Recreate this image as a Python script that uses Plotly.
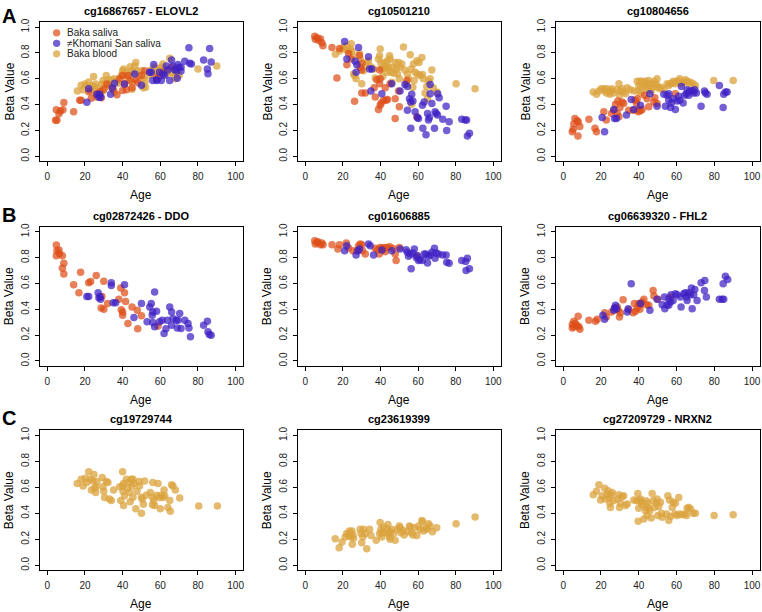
import plotly.graph_objects as go

# ---------------- DATA (Age, Beta value) ----------------
# Panel A1: cg16867657 - ELOVL2
A1_saliva_age = [4.8,5.1,4.4,6.2,7,8.3,8.8,14,17.2,18,22,23.4,26,28,28.7,30,31.7,35,37,38.4,40,40,41,42,42.8,44,45,47,48,50,51.7,58,59.6,61.4,66]
A1_saliva_beta = [0.36,0.28,0.28,0.33,0.35,0.36,0.416,0.344,0.434,0.434,0.5,0.45,0.48,0.5,0.454,0.52,0.56,0.52,0.477,0.6,0.51,0.625,0.56,0.515,0.625,0.587,0.53,0.59,0.57,0.625,0.663,0.607,0.617,0.65,0.69]
A1_khomani_age = [21,22,26.4,27.3,27.8,28.3,33.6,34.5,35.7,41,46.4,50,54.3,55.2,56,56.5,58,58.4,59.6,60.5,61.4,62.3,63.2,64,65,66,66.7,67.6,68.5,69,69.4,70,71,71,73,75.2,75.6,76.5,83,85,85.3,86.2,87]
A1_khomani_beta = [0.418,0.523,0.48,0.457,0.48,0.457,0.48,0.531,0.566,0.56,0.638,0.55,0.65,0.65,0.587,0.71,0.587,0.592,0.65,0.587,0.638,0.625,0.7,0.668,0.587,0.745,0.7,0.673,0.66,0.605,0.71,0.69,0.66,0.69,0.735,0.84,0.72,0.715,0.745,0.675,0.64,0.834,0.73]
A1_blood_age = [16,18,19,20,21,22,23,24,24.6,25,25.7,26.4,27.4,28.7,29.6,30.4,31.3,32.2,32.7,34,35.7,37,38,39.3,40,40.5,41.6,42.3,43.4,44,44.6,45,45.5,46.4,47,47.6,48.7,50,50.8,52.2,53.5,55,56,57,58,59.3,60.5,61.4,62.3,63.2,65,66,66.7,68,68.8,70,80,90,35.7,29.6,26,33,45,51,52,60,64]
A1_blood_beta = [0.505,0.55,0.515,0.56,0.547,0.575,0.505,0.547,0.617,0.535,0.56,0.523,0.485,0.555,0.587,0.56,0.625,0.592,0.55,0.592,0.6,0.582,0.566,0.625,0.663,0.676,0.65,0.605,0.625,0.694,0.663,0.575,0.65,0.7,0.727,0.663,0.617,0.663,0.6,0.535,0.625,0.668,0.638,0.69,0.65,0.676,0.69,0.715,0.676,0.638,0.76,0.65,0.638,0.6,0.65,0.625,0.676,0.70,0.497,0.505,0.46,0.54,0.52,0.53,0.58,0.66,0.67]

# Panel A2: cg10501210
A2_saliva_age = [5,5.3,6.2,7,8,8.8,9.4,14.2,16.8,18.2,22.1,23,24.4,26.2,28.8,29.2,30,30,30,31.9,36.6,37.2,38,39.5,39.5,39.8,39.8,38.9,40.4,41.6,42.5,43,43.7,45.1,47.8,47.8,49.6,50,59.3,54]
A2_saliva_beta = [0.93,0.906,0.918,0.898,0.91,0.88,0.855,0.842,0.607,0.834,0.709,0.796,0.753,0.426,0.78,0.69,0.72,0.668,0.49,0.49,0.53,0.46,0.592,0.561,0.668,0.6,0.395,0.362,0.413,0.434,0.53,0.434,0.439,0.561,0.293,0.446,0.505,0.383,0.306,0.587]
A2_khomani_age = [20.9,22.1,26.5,27.4,28.3,27,33.6,34.2,35.4,34.9,40.7,46,50.4,53,54.3,54.3,55.4,56,56.1,56.6,57.2,58.4,59.6,60.2,62.3,62.5,63.2,64.2,65,65.5,66,66.4,66.4,67.3,68.7,69,69.6,70.3,70.4,71.2,73.1,74.9,75.2,76.5,83.2,85,85.8,86.2,87.3]
A2_khomani_beta = [0.888,0.753,0.735,0.709,0.842,0.65,0.77,0.676,0.676,0.505,0.485,0.561,0.505,0.556,0.54,0.357,0.446,0.42,0.217,0.48,0.429,0.344,0.301,0.293,0.395,0.217,0.42,0.166,0.332,0.281,0.301,0.556,0.485,0.408,0.217,0.344,0.332,0.319,0.485,0.454,0.286,0.388,0.199,0.268,0.286,0.281,0.281,0.158,0.179]
A2_blood_age = [16,18.2,20,20.7,21.8,22.7,23.9,24.4,24.8,25.1,25.7,26.2,27,28.8,29.2,30,31,31.9,32.7,33.6,34.9,36.3,37.2,38.9,39.5,39.8,40.2,40.7,41.2,41.9,42.5,43,43.4,43.7,44.2,44.8,45.1,45.5,46,46.5,47,47.8,48.3,49,49.6,50,50.4,51.3,52.2,53,53.6,54.3,54.9,55.8,56.3,56.6,57.2,57.5,57.9,58.4,59.3,59.6,60.5,61,62,62.3,62.8,63.7,64.6,65,65.5,66.4,67.3,68.1,70,80.2,90.3]
A2_blood_beta = [0.79,0.816,0.842,0.83,0.855,0.82,0.83,0.872,0.816,0.778,0.638,0.625,0.6,0.796,0.753,0.561,0.663,0.7,0.727,0.74,0.694,0.676,0.607,0.753,0.778,0.83,0.72,0.676,0.617,0.727,0.684,0.7,0.65,0.74,0.69,0.778,0.753,0.65,0.574,0.69,0.643,0.727,0.676,0.638,0.727,0.6,0.69,0.714,0.847,0.668,0.561,0.638,0.6,0.786,0.676,0.403,0.535,0.714,0.587,0.65,0.74,0.638,0.727,0.625,0.765,0.633,0.6,0.49,0.54,0.446,0.582,0.6,0.668,0.53,0.497,0.561,0.523]

# Panel A3: cg10804656
A3_saliva_age = [4.8,5.3,5.6,6.2,7.4,7.9,7.8,8.8,13.6,16.8,17.6,21.5,22.8,25.6,26.8,27.7,28.6,29,29.5,30,31.2,32,34.7,37,38,38.8,39.2,39.7,40,40.9,41.8,43,44.4,45.3,48,48.5,49.7,59.4]
A3_saliva_beta = [0.191,0.209,0.25,0.293,0.276,0.268,0.158,0.23,0.286,0.217,0.191,0.344,0.281,0.332,0.357,0.403,0.332,0.429,0.306,0.378,0.42,0.408,0.357,0.357,0.434,0.413,0.446,0.344,0.362,0.352,0.362,0.472,0.446,0.383,0.42,0.454,0.408,0.485]
A3_khomani_age = [20.6,21.9,26.8,27.2,28.2,33.5,36,37.4,40.9,45.9,49.7,53.3,54.1,55,55.9,55.9,56.8,57.3,58.2,59.4,60.3,61.2,61.7,62.6,63.5,64.4,65.3,65.6,66.5,67,68.3,69.1,69.7,70.5,73,74.8,75.3,76.2,82.7,84.7,85,85.9,86.8]
A3_khomani_beta = [0.301,0.191,0.362,0.293,0.293,0.319,0.439,0.362,0.395,0.485,0.388,0.48,0.388,0.472,0.485,0.434,0.378,0.413,0.446,0.362,0.429,0.464,0.434,0.54,0.413,0.472,0.485,0.515,0.472,0.505,0.51,0.49,0.515,0.49,0.388,0.505,0.49,0.48,0.548,0.378,0.48,0.497,0.497]
A3_blood_age = [15.9,17.6,18.9,20.1,21.5,22,22.9,23.3,24.2,24.7,25.4,25.9,26.5,28.6,29.5,29.8,30.3,31.2,32,33,33.9,35.6,37.4,39.2,39.7,40,40.6,41,41.3,41.8,42.7,43.6,44.1,44.4,44.8,45.3,45.9,46.6,47.1,47.6,48.3,49.4,49.7,50.1,51.1,51.9,53.3,55,55.9,56.8,57.7,58.2,59.4,60,61.2,61.7,62.4,63.8,64.7,65.6,66.5,67.4,68.8,70,79.7,90]
A3_blood_beta = [0.497,0.48,0.505,0.523,0.523,0.505,0.49,0.523,0.505,0.48,0.505,0.523,0.49,0.515,0.561,0.472,0.505,0.523,0.497,0.485,0.53,0.515,0.505,0.582,0.505,0.548,0.582,0.49,0.535,0.582,0.548,0.582,0.515,0.561,0.53,0.587,0.548,0.505,0.561,0.535,0.582,0.556,0.6,0.535,0.523,0.535,0.515,0.561,0.548,0.561,0.566,0.582,0.561,0.582,0.582,0.6,0.561,0.574,0.592,0.582,0.566,0.574,0.561,0.548,0.587,0.587]

# Panel B1: cg02872426 - DDO
B1_saliva_age = [4.8,5.1,6.2,4.8,6.5,8,8.8,8,8.8,17.7,14,16.8,22,23,26,30,29,28.6,30,32,38,39,41,41.6,39.3,40,40,42.8,45,47.8,48,50,58.8]
B1_saliva_beta = [0.897,0.854,0.86,0.815,0.83,0.815,0.756,0.718,0.674,0.687,0.59,0.528,0.605,0.615,0.662,0.618,0.5,0.41,0.4,0.444,0.477,0.564,0.528,0.46,0.397,0.38,0.354,0.29,0.418,0.392,0.25,0.35,0.27]
B1_khomani_age = [21,22,27,28,28.3,27.4,34,34,35,36.3,41,46,50,53,54.4,55.2,55.7,56,57,58,56,57,59.6,61,62,63,63.7,65,66,66,66.7,68.5,69,69.4,70.3,71,73,74.7,75.2,76,83,85,85.3,86,87]
B1_khomani_beta = [0.5,0.5,0.528,0.5,0.477,0.49,0.605,0.585,0.45,0.45,0.59,0.336,0.444,0.303,0.418,0.444,0.354,0.38,0.533,0.385,0.297,0.264,0.303,0.315,0.213,0.25,0.315,0.418,0.38,0.277,0.328,0.315,0.256,0.315,0.367,0.251,0.315,0.29,0.256,0.187,0.277,0.308,0.226,0.205,0.2]

# Panel B2: cg01606885
B2_saliva_age = [5,5.3,6.2,6.7,8,8.8,9.4,14.2,17.3,18.2,21.8,23,25.3,27.4,28.3,29.2,30,30.4,31.9,37.2,38.4,39.3,39.8,40.7,41.2,41.9,42.5,43.4,44.8,46.5,47.8,48.3,50,59.3]
B2_saliva_beta = [0.93,0.905,0.918,0.923,0.9,0.913,0.9,0.9,0.867,0.9,0.913,0.874,0.854,0.854,0.892,0.905,0.9,0.854,0.828,0.872,0.859,0.828,0.879,0.872,0.862,0.879,0.846,0.879,0.885,0.872,0.828,0.777,0.879,0.815]
B2_khomani_age = [20.9,22,27,28,28.8,33.6,34.5,36.3,40.7,46,50.4,53.6,54.3,54.9,55.8,56.3,57.2,58,59,59.6,60.2,61,62.3,63.2,64.2,65,65.5,66.4,67.3,68.7,69,69.6,70.8,73,74.9,75.2,76.5,83.2,85.3,85.5,86.2,87.3]
B2_khomani_beta = [0.854,0.892,0.82,0.854,0.867,0.905,0.892,0.82,0.859,0.854,0.867,0.862,0.841,0.81,0.828,0.713,0.836,0.867,0.802,0.815,0.777,0.785,0.777,0.828,0.828,0.759,0.81,0.82,0.841,0.872,0.795,0.836,0.828,0.82,0.82,0.764,0.756,0.777,0.77,0.7,0.795,0.713]

# Panel B3: cg06639320 - FHL2
B3_saliva_age = [4.8,4.8,5.6,5.6,6.5,7.4,7.9,8.3,8.8,13.6,17.1,18,22,22.8,25.6,27.2,28.6,29.1,29.8,30.3,31.7,34.7,37,37.7,38.3,39.2,40,40.6,40.9,41.8,42.7,44.1,45.3,47.6,48,50.1,56.8]
B3_saliva_beta = [0.256,0.282,0.308,0.264,0.29,0.272,0.346,0.264,0.246,0.315,0.308,0.323,0.374,0.341,0.38,0.41,0.418,0.392,0.341,0.374,0.474,0.397,0.374,0.444,0.385,0.41,0.444,0.4,0.436,0.456,0.477,0.436,0.431,0.546,0.503,0.477,0.495]
B3_khomani_age = [21,21.9,26.8,27.2,27.7,28.2,33.9,34.4,36,40.9,45.9,49.7,52.4,53.6,53.8,55,55.9,55.9,56.8,57.1,58.2,59.4,60.3,62,62.4,63.8,64.7,65.3,65.6,66.5,67.4,67.9,68.3,69.1,69.7,70.9,73,74.8,75,75.8,82.7,84.1,85,84.7,85.9,87.1]
B3_khomani_beta = [0.354,0.323,0.392,0.41,0.431,0.405,0.38,0.405,0.597,0.444,0.392,0.477,0.436,0.495,0.405,0.436,0.482,0.431,0.456,0.513,0.469,0.521,0.513,0.495,0.418,0.521,0.528,0.495,0.469,0.528,0.513,0.564,0.405,0.513,0.554,0.469,0.605,0.546,0.623,0.495,0.477,0.477,0.477,0.597,0.656,0.631]

# Panel C1: cg19729744
C1_blood_age = [15.9,18,19,20.2,21,22,23,23.4,24.2,24.8,25,25.7,26,26.4,29.2,29.6,30,30.4,31.3,32.2,33,34,35.2,38.4,39,40,40,40.2,40.5,40.5,41,42,42.5,43.4,43.7,44,44.6,45,45.5,45.5,46,47,47.6,48.7,49,50,50,50.4,51,51.7,52.6,54.7,55.8,56,56,56.5,57,58,58.8,59.6,60,60.5,61.4,62,62.3,64,65,65.3,66,66.7,68,70.3,80.4,90.3]
C1_blood_beta = [0.63,0.663,0.61,0.67,0.638,0.72,0.663,0.58,0.65,0.7,0.594,0.56,0.605,0.645,0.676,0.605,0.57,0.523,0.645,0.638,0.51,0.5,0.58,0.605,0.5,0.72,0.61,0.57,0.63,0.46,0.536,0.663,0.594,0.638,0.56,0.49,0.663,0.61,0.663,0.525,0.63,0.436,0.57,0.645,0.61,0.525,0.4,0.51,0.47,0.65,0.54,0.56,0.467,0.638,0.523,0.497,0.46,0.54,0.63,0.523,0.436,0.54,0.523,0.58,0.536,0.446,0.5,0.416,0.62,0.61,0.58,0.518,0.457,0.457]

# Panel C2: cg23619399
C2_blood_age = [15.9,18,19.5,21.2,22,23,23.5,24.2,24.8,25,25.3,25.7,29.2,29.6,30,30.6,31,31.9,32.7,34.2,34.9,37.7,39.5,39.8,40.2,40.7,40.7,41.6,42.1,43.4,43.9,44.2,44.8,45.1,45.1,46,46.9,47.8,49,50,50.4,50.8,51.9,52.6,54.3,55.4,55.8,56.6,57.2,58,59.3,60.2,61,62,62.3,62.8,64.2,64.6,65.5,66.4,67.6,69.9,80.2,90.3]
C2_blood_beta = [0.205,0.136,0.18,0.218,0.244,0.23,0.264,0.218,0.264,0.162,0.236,0.208,0.277,0.244,0.174,0.218,0.277,0.244,0.128,0.277,0.23,0.192,0.244,0.33,0.277,0.251,0.218,0.295,0.251,0.277,0.315,0.244,0.218,0.259,0.2,0.277,0.244,0.192,0.277,0.303,0.29,0.251,0.269,0.233,0.259,0.303,0.295,0.251,0.233,0.29,0.23,0.303,0.277,0.346,0.336,0.264,0.29,0.277,0.32,0.303,0.259,0.29,0.32,0.372]

# Panel C3: cg27209729 - NRXN2
C3_blood_age = [15.9,17.6,18.9,19.8,20.6,21.9,22.4,23.3,23.8,24.2,24.7,25,25.4,26,26.5,28.6,29.5,29.8,30.3,31.2,32,33,33.9,37.4,38.8,39.5,39.7,40,40.4,41,41.3,41.8,42.7,43.6,43.9,44.1,44.4,44.8,45.3,45.9,46.6,47.1,47.6,48.3,49.4,49.7,50.1,50.6,51.5,52,52.4,54.7,55.4,55.9,56.3,56.8,57.7,58.2,59.1,59.4,60.3,61.2,61.7,63,64.4,65.3,65.6,66.5,67.4,68.8,70,79.9,90]
C3_blood_beta = [0.543,0.57,0.62,0.503,0.536,0.594,0.51,0.548,0.574,0.523,0.477,0.446,0.543,0.56,0.497,0.51,0.543,0.446,0.477,0.528,0.536,0.46,0.472,0.503,0.497,0.554,0.34,0.44,0.497,0.51,0.485,0.467,0.357,0.42,0.497,0.446,0.383,0.477,0.44,0.42,0.365,0.554,0.497,0.446,0.477,0.51,0.383,0.452,0.485,0.4,0.37,0.395,0.536,0.345,0.503,0.375,0.446,0.485,0.395,0.477,0.383,0.523,0.395,0.39,0.395,0.383,0.44,0.446,0.434,0.4,0.4,0.383,0.39]

panel_titles = ["cg16867657 - ELOVL2", "cg10501210", "cg10804656",
                "cg02872426 - DDO", "cg01606885", "cg06639320 - FHL2",
                "cg19729744", "cg23619399", "cg27209729 - NRXN2"]
group_names = {"saliva": "Baka saliva", "khomani": "\u2260Khomani San saliva", "blood": "Baka blood"}
x_ticks = [0, 20, 40, 60, 80, 100]
y_ticks = [0.0, 0.2, 0.4, 0.6, 0.8, 1.0]
y_ticktext = ["0.0", "0.2", "0.4", "0.6", "0.8", "1.0"]
row_letters = ["A", "B", "C"]

panel_data = [
    [("blood", A1_blood_age, A1_blood_beta), ("saliva", A1_saliva_age, A1_saliva_beta), ("khomani", A1_khomani_age, A1_khomani_beta)],
    [("blood", A2_blood_age, A2_blood_beta), ("saliva", A2_saliva_age, A2_saliva_beta), ("khomani", A2_khomani_age, A2_khomani_beta)],
    [("blood", A3_blood_age, A3_blood_beta), ("saliva", A3_saliva_age, A3_saliva_beta), ("khomani", A3_khomani_age, A3_khomani_beta)],
    [("saliva", B1_saliva_age, B1_saliva_beta), ("khomani", B1_khomani_age, B1_khomani_beta)],
    [("saliva", B2_saliva_age, B2_saliva_beta), ("khomani", B2_khomani_age, B2_khomani_beta)],
    [("saliva", B3_saliva_age, B3_saliva_beta), ("khomani", B3_khomani_age, B3_khomani_beta)],
    [("blood", C1_blood_age, C1_blood_beta)],
    [("blood", C2_blood_age, C2_blood_beta)],
    [("blood", C3_blood_age, C3_blood_beta)],
]

# ---------------- STYLE / LAYOUT ----------------
W, H = 762, 612
FONT = "Liberation Sans, Arial, Helvetica, sans-serif"
COLORS = {"saliva": "rgba(222,78,24,0.72)",
          "khomani": "rgba(62,32,196,0.72)",
          "blood": "rgba(219,163,62,0.75)"}

col_px = [(39.8, 243.5), (298.2, 501.5), (556.4, 760.6)]
row_px = [(18.1, 158.5), (224.1, 364.5), (429.1, 570.2)]

def px_x(p):
    return p / W

def px_y(p):
    return 1 - p / H

fig = go.Figure()
layout = dict(width=W, height=H, margin=dict(l=0, r=0, t=0, b=0),
              paper_bgcolor="white", plot_bgcolor="white",
              showlegend=False, font=dict(family=FONT, color="black"))
annotations = []
shapes = []

for i in range(9):
    r, c = divmod(i, 3)
    n = i + 1
    xa = "x" if n == 1 else f"x{n}"
    ya = "y" if n == 1 else f"y{n}"
    x0, x1 = col_px[c]
    y0, y1 = row_px[r]
    axis_common = dict(showline=True, linecolor="black", linewidth=1, mirror=True,
                       ticks="outside", ticklen=4, tickwidth=1, tickcolor="black",
                       showgrid=False, zeroline=False,
                       tickfont=dict(size=10, family=FONT, color="#222"))
    layout["xaxis" if n == 1 else f"xaxis{n}"] = dict(
        domain=[px_x(x0), px_x(x1)], anchor=ya, range=[-4, 104],
        tickmode="array", tickvals=x_ticks, ticklabelstandoff=2, **axis_common)
    layout["yaxis" if n == 1 else f"yaxis{n}"] = dict(
        domain=[px_y(y1), px_y(y0)], anchor=xa, range=[-0.04, 1.04],
        tickmode="array", tickvals=y_ticks, ticktext=y_ticktext, tickangle=-90,
        ticklabelstandoff=2, **axis_common)

    for grp, ages, betas in panel_data[i]:
        fig.add_trace(go.Scatter(x=ages, y=betas, mode="markers", xaxis=xa, yaxis=ya,
                                 name=group_names[grp], hoverinfo="skip",
                                 marker=dict(size=7.5, color=COLORS[grp], line=dict(width=0))))

    cx = (x0 + x1) / 2
    annotations.append(dict(text="<b>%s</b>" % panel_titles[i], x=px_x(cx), y=px_y(y0 - 11),
                            xref="paper", yref="paper", showarrow=False,
                            font=dict(size=11, family=FONT), xanchor="center", yanchor="middle"))
    annotations.append(dict(text="Age", x=px_x(cx), y=px_y(y1 + 34),
                            xref="paper", yref="paper", showarrow=False,
                            font=dict(size=12, family=FONT), xanchor="center", yanchor="middle"))
    annotations.append(dict(text="Beta Value", x=px_x(x0 - 30), y=px_y((y0 + y1) / 2),
                            xref="paper", yref="paper", showarrow=False, textangle=-90,
                            font=dict(size=12, family=FONT), xanchor="center", yanchor="middle"))

for r, letter in enumerate(row_letters):
    annotations.append(dict(text="<b>%s</b>" % letter, x=px_x(9.5), y=px_y([12, 212, 417][r]),
                            xref="paper", yref="paper", showarrow=False,
                            font=dict(size=20, family=FONT), xanchor="center", yanchor="middle"))

# legend inside panel A1
legend_items = ["saliva", "khomani", "blood"]
for k, grp in enumerate(legend_items):
    cy = 29 + k * 10.6
    cxm = 56.7
    rad = 3.7
    shapes.append(dict(type="circle", xref="paper", yref="paper",
                       x0=px_x(cxm - rad), x1=px_x(cxm + rad), y0=px_y(cy + rad), y1=px_y(cy - rad),
                       fillcolor=COLORS[grp], line=dict(width=0)))
    annotations.append(dict(text=group_names[grp], x=px_x(65), y=px_y(cy),
                            xref="paper", yref="paper", showarrow=False,
                            font=dict(size=10, family=FONT, color="#222"), xanchor="left", yanchor="middle"))

layout["annotations"] = annotations
layout["shapes"] = shapes
fig.update_layout(**layout)
fig.write_html("out.html", config={"displayModeBar": False},
               post_script="document.body.style.margin='0';document.body.style.padding='0';document.body.style.overflow='hidden';")
